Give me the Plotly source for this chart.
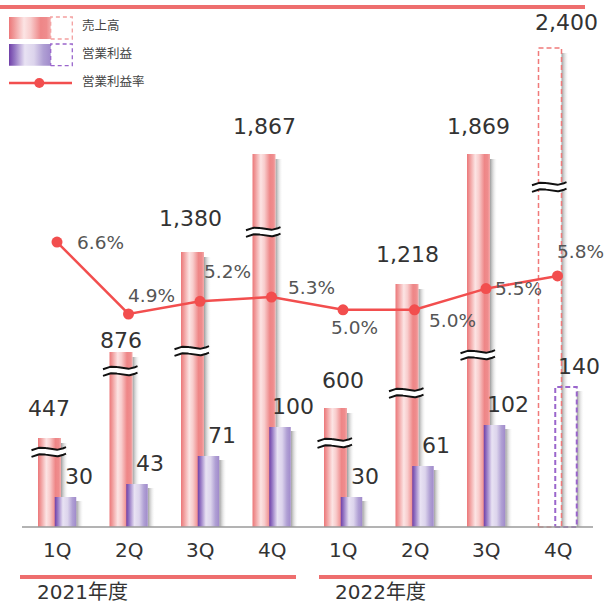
import numpy as np
import plotly.graph_objects as go

# ---------------- data ----------------
quarters = ["1Q", "2Q", "3Q", "4Q", "1Q", "2Q", "3Q", "4Q"]
fiscal_years = ["2021年度", "2022年度"]
sales = [447, 876, 1380, 1867, 600, 1218, 1869, 2400]
operating_profit = [30, 43, 71, 100, 30, 61, 102, 140]
operating_margin = [6.6, 4.9, 5.2, 5.3, 5.0, 5.0, 5.5, 5.8]
is_forecast = [False, False, False, False, False, False, False, True]
# sales bars use a broken axis: drawn length (on the profit scale) and where the break sits
sales_drawn = [89, 175, 275, 373, 119, 243, 373, 479]
sales_break = [75, 156, 176, 295, 84, 134, 172, 340]
legend_names = ["売上高", "営業利益", "営業利益率"]

# ---------------- geometry helpers ----------------
W, H = 606, 604
PXU = 71.5      # pixels per category
X0PX = 57.0     # pixel column of first category
BASE = 527.0    # pixel row of baseline
RATE_PX = 42.3  # pixels per 1 % on the margin axis
RATE_REF_V, RATE_REF_PX = 4.9, 314.0

def px(p):
    return p / PXU

def xpix(p):
    return (p - X0PX) / PXU

def ypix(p):
    return BASE - p

FONT = "DejaVu Sans, Noto Sans CJK JP, sans-serif"

sales_scale = [[0, "#ec7779"], [0.12, "#f09a9a"], [0.36, "#fce4e4"], [0.52, "#f8cccc"],
               [0.76, "#ee8687"], [0.9, "#ef8c8d"], [1, "#f4abab"]]
profit_scale = [[0, "#6f3fa8"], [0.14, "#9678c4"], [0.38, "#e8e2f3"], [0.6, "#dcd4ec"],
                [0.82, "#b0a0d4"], [1, "#a08acb"]]
shadow_scale = [[0, "rgba(90,90,90,0.6)"], [0.45, "rgba(150,150,150,0.32)"], [1, "rgba(230,230,230,0)"]]

fig = go.Figure()


def rect(xl, xr, yb, yt, scale=None, dash=None, color=None, lw=1.5):
    xs = [xl, xr, xr, xl, xl]
    ys = [yb, yb, yt, yt, yb]
    if scale is not None:
        return go.Scatter(x=xs, y=ys, mode="lines", line=dict(width=0), fill="toself",
                          fillcolor=scale[2][1],
                          fillgradient=dict(type="horizontal", colorscale=scale),
                          hoverinfo="skip", showlegend=False)
    return go.Scatter(x=xs, y=ys, mode="lines", line=dict(width=lw, color=color, dash=dash),
                      hoverinfo="skip", showlegend=False)


S_OFF, S_W = px(-19), px(23)
P_OFF, P_W = px(-2.25), px(21.5)
SH_W = px(7)

# sales bars
for i, h in enumerate(sales_drawn):
    xl = i + S_OFF
    xr = xl + S_W
    fig.add_trace(rect(xr, xr + SH_W, 0, h - 5, scale=shadow_scale))
    if is_forecast[i]:
        fig.add_trace(rect(xl, xr, 0, h, dash="5px,3px", color="#f07a7a", lw=1.5))
    else:
        fig.add_trace(rect(xl, xr, 0, h, scale=sales_scale))

# profit bars
for i, h in enumerate(operating_profit):
    xl = i + P_OFF
    xr = xl + P_W
    fig.add_trace(rect(xr, xr + SH_W, 0, h - 4, scale=shadow_scale))
    if is_forecast[i]:
        fig.add_trace(rect(xl, xr, 0, h, dash="5px,3px", color="#9a66cc", lw=2))
    else:
        fig.add_trace(rect(xl, xr, 0, h, scale=profit_scale))

# break marks on sales bars
t = np.linspace(0, 1, 40)
for i, yc in enumerate(sales_break):
    xl = i + S_OFF - px(6.5)
    xr = i + S_OFF + S_W + px(5)
    xs = xl + t * (xr - xl)
    wave = 1.6 * (2 * t - 1) + 1.8 * np.sin(2 * np.pi * t)
    up = yc + wave + 3.3
    lo = yc + wave - 3.3
    fig.add_trace(go.Scatter(x=np.concatenate([xs, xs[::-1]]), y=np.concatenate([up, lo[::-1]]),
                             mode="lines", line=dict(width=0), fill="toself", fillcolor="white",
                             hoverinfo="skip", showlegend=False))
    for yy in (up, lo):
        fig.add_trace(go.Scatter(x=xs, y=yy, mode="lines", line=dict(width=2, color="#111"),
                                 hoverinfo="skip", showlegend=False))

# margin line
fig.add_trace(go.Scatter(x=list(range(len(quarters))), y=operating_margin, yaxis="y2",
                         mode="lines+markers", line=dict(color="#f24e4e", width=2.5),
                         marker=dict(size=11, color="#f24e4e"), hoverinfo="skip", showlegend=False))

ann = []
# sales value labels
sales_dx = [-1, 0, -2, 0, 7, 0, 0, 16]
sales_dy = [30, 12, 34, 28, 28, 30, 28, 26]
for i, (v, h) in enumerate(zip(sales, sales_drawn)):
    ann.append(dict(x=i + S_OFF + S_W / 2, y=h, xref="x", yref="y", text=f"{v:,}",
                    showarrow=False, xshift=sales_dx[i], yshift=sales_dy[i], yanchor="middle",
                    font=dict(size=22, color="#333")))
# profit value labels
for i, v in enumerate(operating_profit):
    ann.append(dict(x=i + P_OFF + P_W / 2, y=v, xref="x", yref="y", text=f"{v:,}",
                    showarrow=False, xshift=13, yshift=21, yanchor="middle",
                    font=dict(size=22, color="#333")))
# margin labels
rate_off = [(43, 0), (23, -19), (27, -30), (40, -10), (11, 18), (38, 11), (32, 0), (23, -24)]
for i, v in enumerate(operating_margin):
    dx, dy = rate_off[i]
    ann.append(dict(x=i, y=v, xref="x", yref="y2", text=f"{v:.1f}%", showarrow=False,
                    xshift=dx, yshift=-dy, yanchor="middle", font=dict(size=18.5, color="#555")))
# quarter labels
for i, q in enumerate(quarters):
    ann.append(dict(x=i, y=ypix(550), xref="x", yref="y", text=q, showarrow=False,
                    yanchor="middle", font=dict(size=20, color="#333")))
# fiscal year labels
for fy, xp in zip(fiscal_years, [35, 333]):
    ann.append(dict(x=xpix(xp), y=ypix(592), xref="x", yref="y", text=fy, showarrow=False,
                    xanchor="left", yanchor="middle", font=dict(size=20, color="#333")))
# legend texts
for name, yp in zip(legend_names, [25, 53, 81]):
    ann.append(dict(x=xpix(80), y=ypix(yp), xref="x", yref="y", text=name, showarrow=False,
                    xanchor="left", yanchor="middle", font=dict(size=12.5, color="#444")))

# legend icons
fig.add_trace(rect(xpix(9), xpix(50.7), ypix(39), ypix(17), scale=sales_scale))
fig.add_trace(rect(xpix(50.7), xpix(72.3), ypix(39), ypix(17), dash="4px,3px", color="#f4a0a0", lw=1.3))
fig.add_trace(rect(xpix(9), xpix(50.7), ypix(65.7), ypix(44), scale=profit_scale))
fig.add_trace(rect(xpix(50.7), xpix(72.3), ypix(65.7), ypix(44), dash="4px,3px", color="#9a66cc", lw=1.3))
fig.add_trace(go.Scatter(x=[xpix(9), xpix(72)], y=[ypix(83), ypix(83)], mode="lines",
                         line=dict(color="#f24e4e", width=2.5), hoverinfo="skip", showlegend=False))
fig.add_trace(go.Scatter(x=[xpix(39.3)], y=[ypix(83)], mode="markers",
                         marker=dict(size=10, color="#f24e4e"), hoverinfo="skip", showlegend=False))

shapes = [
    dict(type="line", xref="x", yref="y", x0=xpix(22), x1=xpix(593), y0=0, y1=0,
         line=dict(color="#9a9a9a", width=1.5)),
    dict(type="line", xref="x", yref="y", x0=xpix(0), x1=xpix(585), y0=ypix(7), y1=ypix(7),
         line=dict(color="#ee6e6e", width=4)),
    dict(type="line", xref="x", yref="y", x0=xpix(20), x1=xpix(296), y0=ypix(577), y1=ypix(577),
         line=dict(color="#ee6e6e", width=4)),
    dict(type="line", xref="x", yref="y", x0=xpix(319), x1=xpix(592), y0=ypix(577), y1=ypix(577),
         line=dict(color="#ee6e6e", width=4)),
]

y2_lo = RATE_REF_V + (RATE_REF_PX - H) / RATE_PX
y2_hi = RATE_REF_V + RATE_REF_PX / RATE_PX

fig.update_layout(
    width=W, height=H, margin=dict(l=0, r=0, t=0, b=0),
    paper_bgcolor="white", plot_bgcolor="white",
    font=dict(family=FONT, color="#333"),
    xaxis=dict(range=[xpix(0), xpix(W)], visible=False, fixedrange=True),
    yaxis=dict(range=[ypix(H), ypix(0)], visible=False, fixedrange=True),
    yaxis2=dict(range=[y2_lo, y2_hi], overlaying="y", visible=False, fixedrange=True),
    annotations=ann, shapes=shapes, showlegend=False,
)

fig.write_html("out.html")
